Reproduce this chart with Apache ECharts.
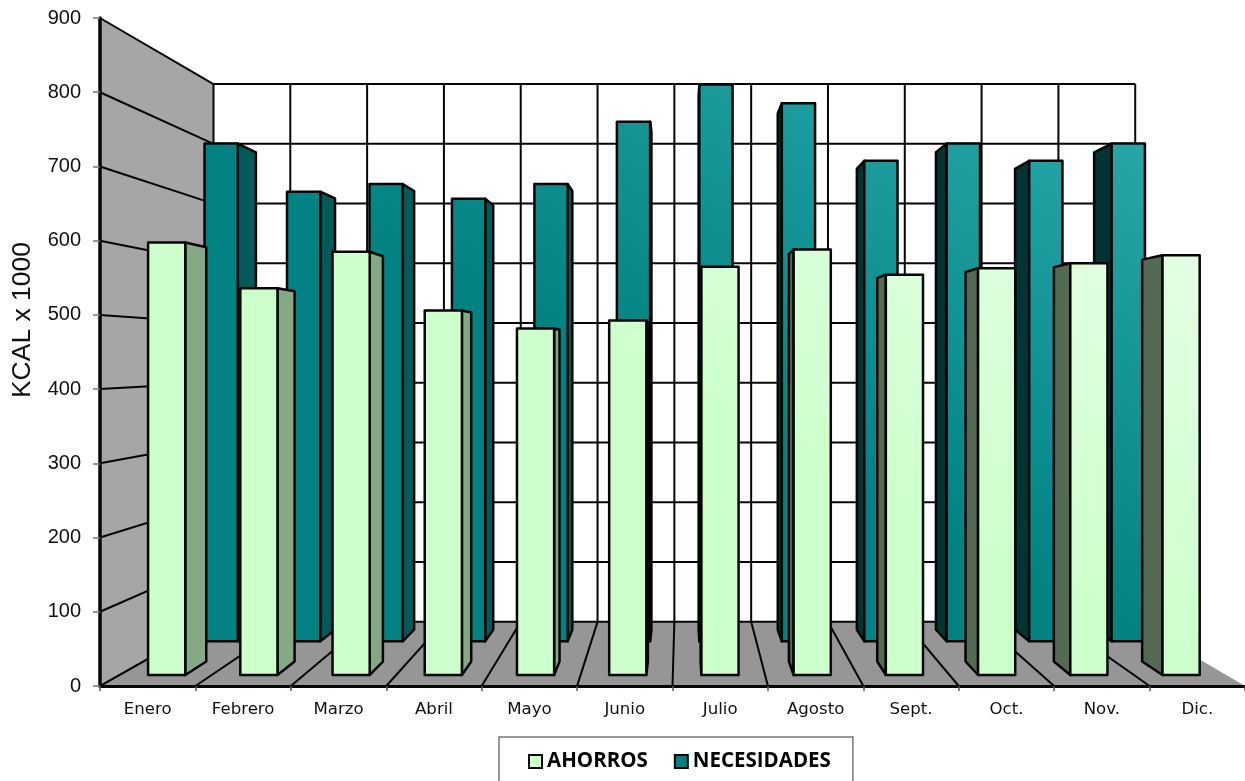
<!DOCTYPE html>
<html>
<head>
<meta charset="utf-8">
<style>html,body{margin:0;padding:0;background:#fff;overflow:hidden}#c{width:1245px;height:781px}</style>
<script src="https://cdn.jsdelivr.net/npm/echarts@6/dist/echarts.min.js"></script>
</head>
<body>
<div id="c"></div>
<script>
// Monthly energy balance, kcal x 1000
const categories = ['Enero','Febrero','Marzo','Abril','Mayo','Junio','Julio','Agosto','Sept.','Oct.','Nov.','Dic.'];
const ahorros = [603,539,590,508,483,494,569,593,558,567,574,585];
const necesidades = [776,701,713,690,713,810,868,839,749,776,749,776];
const valueTicks = [0,100,200,300,400,500,600,700,800,900];

// Perspective projection of the front plane of the plot towards the back wall
const VANISH = [682, 357];
const BACK_DEPTH = 0.805;
const project = (p, s) => [VANISH[0] + (p[0] - VANISH[0]) * s, VANISH[1] + (p[1] - VANISH[1]) * s];

const INK = '#050505';

function renderScene(params, api) {
  const band = api.size([1, 0])[0];
  const n = categories.length;
  const top = valueTicks[valueTicks.length - 1];
  const f = (i, v) => { const c = api.coord([0, v]); return [c[0] - band / 2 + i * band, c[1]]; };
  const poly = (pts, fill) => ({ type: 'polygon', shape: { points: pts }, style: { fill: fill, stroke: 'none' } });
  const line = (a, b, w) => ({ type: 'line', shape: { x1: a[0], y1: a[1], x2: b[0], y2: b[1] }, style: { stroke: INK, lineWidth: w } });
  const back = (i, v) => project(f(i, v), BACK_DEPTH);
  const kids = [
    poly([f(0, 0), back(0, 0), back(0, top), f(0, top)], '#a6a6a6'),
    poly([f(0, 0), back(0, 0), back(n, 0), f(n, 0)], '#969696')
  ];
  valueTicks.forEach(v => {
    kids.push(line(back(0, v), back(n, v), 2));
    kids.push(line(f(0, v), back(0, v), 2));
  });
  for (let i = 0; i <= n; i++) {
    kids.push(line(back(i, 0), back(i, top), 2));
    if (i < n) kids.push(line(f(i, 0), back(i, 0), 2));
  }
  return { type: 'group', children: kids };
}

// One bar: a front face at depth s0 and a side face running back to depth s1
function barRenderer(s0, s1, colors) {
  return function (params, api) {
    const idx = api.value(0), val = api.value(1);
    const band = api.size([1, 0])[0];
    const c = api.coord([idx, val]), b = api.coord([idx, 0]);
    const x0 = c[0] - band / 2 + 0.31 * band, x1 = c[0] - band / 2 + 0.713 * band;
    const fl = project([x0, c[1]], s0), fr = project([x1, c[1]], s0);
    const bl = project([x0, b[1]], s0), br = project([x1, b[1]], s0);
    const rightFace = x1 < VANISH[0];
    const edgeX = rightFace ? x1 : x0;
    const side = [project([edgeX, c[1]], s0), project([edgeX, c[1]], s1), project([edgeX, b[1]], s1), project([edgeX, b[1]], s0)];
    const stroke = { stroke: INK, lineWidth: 2.5, lineJoin: 'round' };
    return {
      type: 'group',
      children: [
        { type: 'polygon', shape: { points: side }, style: Object.assign({ fill: rightFace ? colors.sideRight : colors.sideLeft }, stroke) },
        { type: 'polygon', shape: { points: [fl, fr, br, bl] }, style: Object.assign({ fill: colors.front }, stroke) }
      ]
    };
  };
}

// Shared diagonal sheen: the fronts brighten towards the upper right of the plot
const sheen = (base, light) => ({
  type: 'linear', global: true, x: 200, y: 144, x2: 405, y2: -241,
  colorStops: [{ offset: 0, color: base }, { offset: 1, color: light }]
});

const chart = echarts.init(document.getElementById('c'), null, { renderer: 'canvas' });
chart.setOption({
  animation: false,
  backgroundColor: '#ffffff',
  grid: { left: 100, top: 18, width: 1145, height: 668, containLabel: false },
  xAxis: {
    type: 'category', data: categories, z: 5,
    axisLine: { lineStyle: { color: INK, width: 3 } },
    axisTick: { show: true, length: 5, lineStyle: { color: '#555', width: 1.5 } },
    axisLabel: { color: '#111', fontFamily: 'DejaVu Sans', fontSize: 16.6, margin: 15 }
  },
  yAxis: {
    type: 'value', min: 0, max: 900, interval: 100, z: 5,
    axisLine: { show: true, lineStyle: { color: INK, width: 3.5 } },
    axisTick: { show: true, length: 7, lineStyle: { color: '#777', width: 1.5 } },
    axisLabel: { color: '#111', fontFamily: 'Liberation Sans', fontSize: 20, margin: 19, padding: [2, 0, 0, 0] },
    splitLine: { show: false }
  },
  legend: {
    left: 499, top: 737,
    data: ['AHORROS', 'NECESIDADES'],
    icon: 'rect', itemWidth: 13, itemHeight: 13, itemGap: 26,
    padding: [14, 22, 14, 29],
    borderColor: '#777', borderWidth: 1.5,
    textStyle: { color: '#000', fontFamily: 'Open Sans', fontWeight: 'bold', fontSize: 20.5 },
    itemStyle: { borderColor: INK, borderWidth: 2 }
  },
  graphic: [{
    type: 'text', x: 23, y: 320, rotation: Math.PI / 2,
    style: { text: 'KCAL x 1000', font: '26.5px "Liberation Sans"', fill: '#111', align: 'center', verticalAlign: 'middle' }
  }],
  series: [
    {
      name: 'escena', type: 'custom', z: 1, silent: true, clip: false,
      data: [[0, 0]], encode: { x: 0, y: 1 }, renderItem: renderScene
    },
    {
      name: 'NECESIDADES', type: 'custom', z: 2, clip: false,
      itemStyle: { color: '#008080' },
      data: necesidades.map((v, i) => [i, v]), encode: { x: 0, y: 1 },
      renderItem: barRenderer(0.8643, 0.829, { front: sheen('#028282', '#26a6a6'), sideRight: '#005a5a', sideLeft: '#033333' })
    },
    {
      name: 'AHORROS', type: 'custom', z: 3, clip: false,
      itemStyle: { color: '#ccffcc' },
      data: ahorros.map((v, i) => [i, v]), encode: { x: 0, y: 1 },
      renderItem: barRenderer(0.9665, 0.9256, { front: sheen('#ccffcc', '#e8ffe8'), sideRight: '#85a985', sideLeft: '#556a52' })
    }
  ]
});
</script>
</body>
</html>
